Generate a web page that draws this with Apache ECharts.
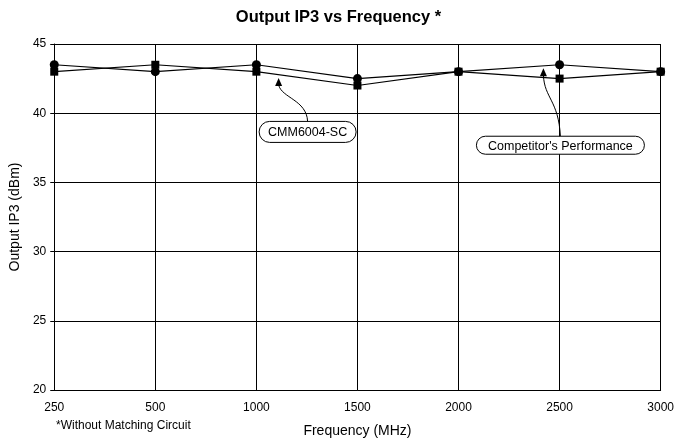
<!DOCTYPE html>
<html>
<head>
<meta charset="utf-8">
<script src="https://cdn.jsdelivr.net/npm/echarts@6/dist/echarts.min.js"></script>
<style>
  html, body { margin: 0; padding: 0; background: #fff; }
  #chart { width: 677px; height: 443px; }
</style>
</head>
<body>
<div id="chart"></div>
<script>
  // frequency categories (MHz)
  const frequencies = ['250', '500', '1000', '1500', '2000', '2500', '3000'];
  // circles - competitor
  const competitor = [43.5, 43.0, 43.5, 42.5, 43.0, 43.5, 43.0];
  // squares - CMM6004-SC
  const cmm6004 = [43.0, 43.5, 43.0, 42.0, 43.0, 42.5, 43.0];
  const yTicks = [20, 25, 30, 35, 40, 45];

  const font = 'Liberation Sans, Arial, sans-serif';
  const chart = echarts.init(document.getElementById('chart'));

  chart.setOption({
    animation: false,
    backgroundColor: '#fff',
    title: {
      text: 'Output IP3 vs Frequency *',
      left: 'center',
      top: 4,
      textStyle: { fontFamily: font, fontSize: 16.5, fontWeight: 'bold', color: '#000' }
    },
    grid: { left: 53, right: 10, top: 44, bottom: 52 },
    xAxis: {
      type: 'category',
      data: frequencies,
      boundaryGap: false,
      name: 'Frequency (MHz)',
      nameLocation: 'middle',
      nameGap: 34,
      nameTextStyle: { fontFamily: font, fontSize: 14, color: '#000' },
      axisLine: { lineStyle: { color: '#000', width: 1 } },
      axisTick: { show: false },
      axisLabel: { fontFamily: font, fontSize: 12, color: '#000', margin: 12 },
      splitLine: { show: true, lineStyle: { color: '#000', width: 1 } }
    },
    yAxis: {
      type: 'value',
      min: yTicks[0],
      max: yTicks[yTicks.length - 1],
      interval: 5,
      name: 'Output IP3 (dBm)',
      nameLocation: 'middle',
      nameGap: 28,
      nameTextStyle: { fontFamily: font, fontSize: 14, color: '#000' },
      axisLine: { show: true, lineStyle: { color: '#000', width: 1 } },
      axisTick: { show: true, length: 4, lineStyle: { color: '#000' } },
      axisLabel: { fontFamily: font, fontSize: 12, color: '#000', margin: 8 },
      splitLine: { show: true, lineStyle: { color: '#000', width: 1 } }
    },
    series: [
      {
        name: "Competitor's Performance",
        type: 'line',
        data: competitor,
        symbol: 'circle',
        symbolSize: 9,
        itemStyle: { color: '#000' },
        lineStyle: { color: '#000', width: 1.2 },
        z: 3
      },
      {
        name: 'CMM6004-SC',
        type: 'line',
        data: cmm6004,
        symbol: 'rect',
        symbolSize: 8,
        itemStyle: { color: '#000' },
        lineStyle: { color: '#000', width: 1.2 },
        z: 3
      }
    ]
  });

  // pixel position between two categories (category axis only gives whole indexes)
  function px(idx, val) {
    const i = Math.floor(idx), f = idx - i;
    const a = chart.convertToPixel({ gridIndex: 0 }, [i, val]);
    const b = chart.convertToPixel({ gridIndex: 0 }, [i + 1, val]);
    return [a[0] + (b[0] - a[0]) * f, a[1]];
  }

  // callouts: rounded labels with curved arrows
  function callout(tip, box, w, h, text, c1, c2) {
    const startX = box[0], startY = box[1] - h / 2;
    return [
      {
        type: 'bezierCurve',
        shape: { x1: startX, y1: startY, cpx1: c1[0], cpy1: c1[1], cpx2: c2[0], cpy2: c2[1], x2: tip[0], y2: tip[1] + 7 },
        style: { stroke: '#000', lineWidth: 1, fill: null },
        z: 10
      },
      {
        type: 'polygon',
        shape: { points: [[tip[0], tip[1]], [tip[0] - 3.5, tip[1] + 8], [tip[0] + 3.5, tip[1] + 8]] },
        style: { fill: '#000' },
        z: 10
      },
      {
        type: 'rect',
        shape: { x: box[0] - w / 2, y: box[1] - h / 2, width: w, height: h, r: h / 2 },
        style: { fill: '#fff', stroke: '#000', lineWidth: 1 },
        z: 11
      },
      {
        type: 'text',
        x: box[0],
        y: box[1] + 1,
        style: { text: text, fontFamily: font, fontSize: 12.5, fill: '#000', align: 'center', verticalAlign: 'middle' },
        z: 12
      }
    ];
  }

  const tipA = px(2.22, 42.55);
  const tipB = px(4.84, 43.25);
  const boxA = [tipA[0] + 29, tipA[1] + 54];
  const boxB = [tipB[0] + 17, tipB[1] + 77];

  const footnote = {
    type: 'text',
    left: 56,
    top: 420,
    style: { text: '*Without Matching Circuit', fontFamily: font, fontSize: 12, fill: '#000' }
  };

  chart.setOption({
    graphic: [].concat(
      callout(tipA, boxA, 97, 21, 'CMM6004-SC',
        [boxA[0] - 1, boxA[1] - 32], [tipA[0] + 3, tipA[1] + 20]),
      callout(tipB, boxB, 168, 18, "Competitor's Performance",
        [boxB[0] - 2, boxB[1] - 45], [tipB[0] + 1, tipB[1] + 30]),
      [footnote]
    )
  });
</script>
</body>
</html>
